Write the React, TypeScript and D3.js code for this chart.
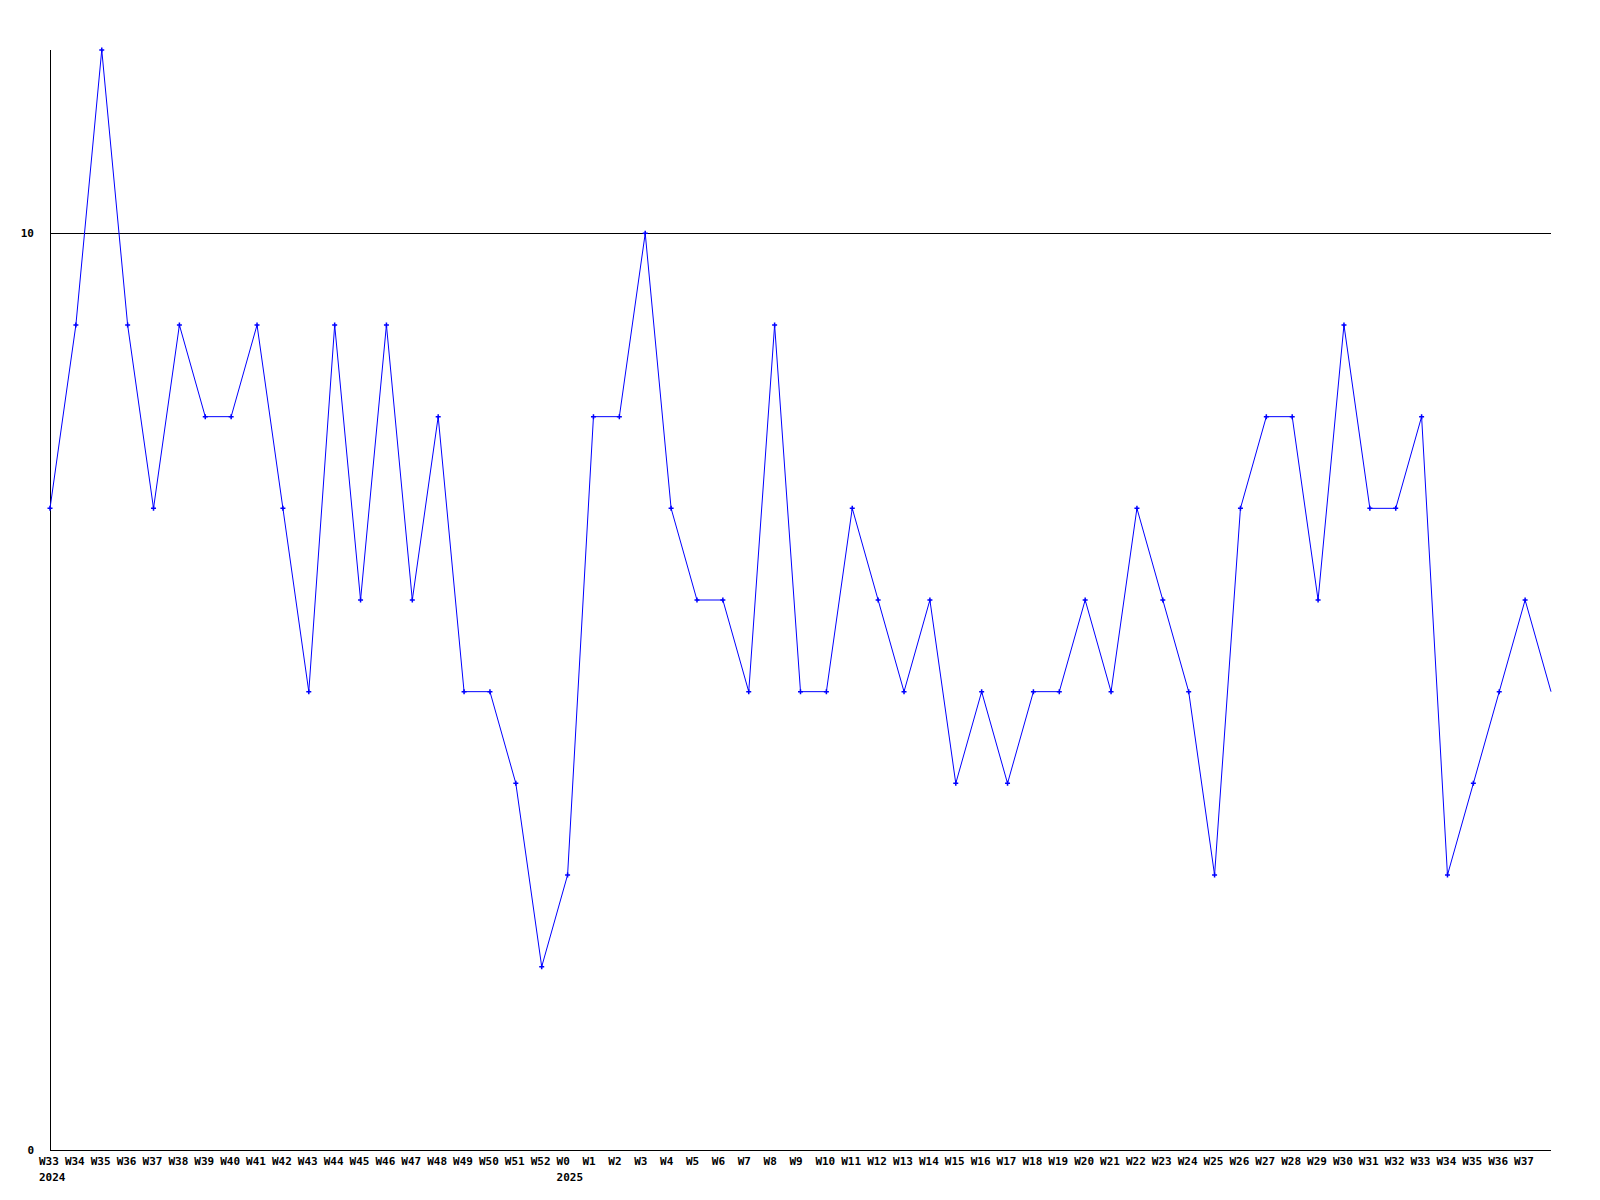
import { useEffect, useRef } from "react";
import * as d3 from "d3";

// weekly labels, W33 2024 .. W37 2025
const weeks: string[] = [
  "W33", "W34", "W35", "W36", "W37", "W38", "W39", "W40", "W41", "W42",
  "W43", "W44", "W45", "W46", "W47", "W48", "W49", "W50", "W51", "W52",
  "W0", "W1", "W2", "W3", "W4", "W5", "W6", "W7", "W8", "W9",
  "W10", "W11", "W12", "W13", "W14", "W15", "W16", "W17", "W18", "W19",
  "W20", "W21", "W22", "W23", "W24", "W25", "W26", "W27", "W28", "W29",
  "W30", "W31", "W32", "W33", "W34", "W35", "W36", "W37",
];

// year markers under the week labels (index into weeks)
const years: { index: number; label: string }[] = [
  { index: 0, label: "2024" },
  { index: 20, label: "2025" },
];

const values: number[] = [
  7, 9, 12, 9, 7, 9, 8, 8, 9, 7,
  5, 9, 6, 9, 6, 8, 5, 5, 4, 2,
  3, 8, 8, 10, 7, 6, 6, 5, 9, 5,
  5, 7, 6, 5, 6, 4, 5, 4, 5, 5,
  6, 5, 7, 6, 5, 3, 7, 8, 8, 6,
  9, 7, 7, 8, 3, 4, 5, 6,
];

// the line runs on one more week past the last label (no marker)
const trailing: number[] = [5];

const yTicks: number[] = [0, 10];

const W = 1600;
const H = 1200;
const FONT = "'DejaVu Sans Mono', 'Liberation Mono', monospace";

export default function App() {
  const svgRef = useRef<SVGSVGElement>(null);

  useEffect(() => {
    const svg = d3.select(svgRef.current);
    svg.selectAll("*").remove();

    const all = values.concat(trailing);
    const x = d3.scaleLinear().domain([0, all.length - 1]).range([50, 1551]);
    const y = d3.scaleLinear().domain([0, 12]).range([1150, 50]);
    const px = (v: number) => Math.round(v) + 0.5;

    // gridline at 10
    svg
      .selectAll("line.grid")
      .data(yTicks.filter((t) => t > 0))
      .enter()
      .append("line")
      .attr("x1", x(0))
      .attr("x2", x(all.length - 1))
      .attr("y1", (d) => px(y(d)))
      .attr("y2", (d) => px(y(d)))
      .attr("stroke", "#000")
      .attr("stroke-width", 1)
      .attr("shape-rendering", "crispEdges");

    // axes
    svg
      .append("line")
      .attr("x1", px(x(0)))
      .attr("x2", px(x(0)))
      .attr("y1", y(12))
      .attr("y2", px(y(0)))
      .attr("stroke", "#000")
      .attr("shape-rendering", "crispEdges");
    svg
      .append("line")
      .attr("x1", x(0))
      .attr("x2", x(all.length - 1))
      .attr("y1", px(y(0)))
      .attr("y2", px(y(0)))
      .attr("stroke", "#000")
      .attr("shape-rendering", "crispEdges");

    // y labels
    svg
      .selectAll("text.ylab")
      .data(yTicks)
      .enter()
      .append("text")
      .attr("x", 34)
      .attr("y", (d) => y(d) + 4)
      .attr("text-anchor", "end")
      .attr("font-family", FONT)
      .attr("font-weight", "bold")
      .attr("font-size", 11)
      .text((d) => String(d));

    // line
    const line = d3
      .line<number>()
      .x((_, i) => x(i))
      .y((d) => y(d));
    svg
      .append("path")
      .attr("d", line(all))
      .attr("fill", "none")
      .attr("stroke", "#0000ff")
      .attr("stroke-width", 1);

    // plus markers
    const marks = svg
      .selectAll("g.mark")
      .data(values)
      .enter()
      .append("g")
      .attr("transform", (d, i) => `translate(${x(i)},${y(d)})`);
    marks
      .append("path")
      .attr("d", "M-2.5,0H2.5M0,-2.5V2.5")
      .attr("stroke", "#0000ff")
      .attr("stroke-width", 1.5);

    // week labels
    svg
      .selectAll("text.wk")
      .data(weeks)
      .enter()
      .append("text")
      .attr("x", (_, i) => x(i) - 11)
      .attr("y", 1165)
      .attr("font-family", FONT)
      .attr("font-weight", "bold")
      .attr("font-size", 11)
      .text((d) => d);

    svg
      .selectAll("text.yr")
      .data(years)
      .enter()
      .append("text")
      .attr("x", (d) => x(d.index) - 11)
      .attr("y", 1181)
      .attr("font-family", FONT)
      .attr("font-weight", "bold")
      .attr("font-size", 11)
      .text((d) => d.label);
  }, []);

  return (
    <svg
      ref={svgRef}
      width={W}
      height={H}
      style={{ position: "absolute", left: 0, top: 0, background: "#fff" }}
    />
  );
}
